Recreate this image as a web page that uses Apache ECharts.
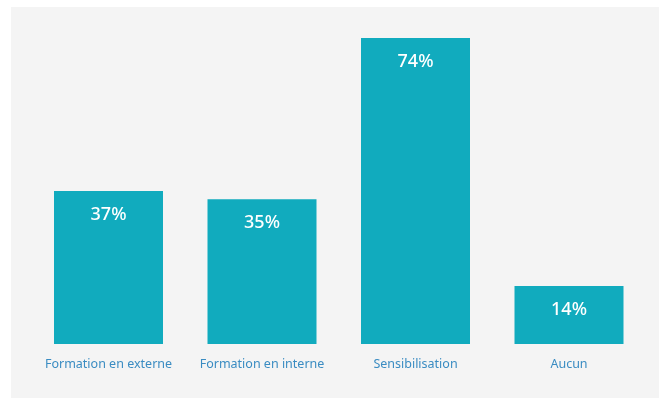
<!DOCTYPE html>
<html>
<head>
<meta charset="utf-8">
<style>
  html, body { margin: 0; padding: 0; background: #ffffff; }
  #chart { width: 659px; height: 398px; }
</style>
<script src="https://cdn.jsdelivr.net/npm/echarts@6/dist/echarts.min.js"></script>
</head>
<body>
<div id="chart"></div>
<script>
// Types de formation (part des répondants, %)
const categories = ['Formation en externe', 'Formation en interne', 'Sensibilisation', 'Aucun'];
const values = [37, 35, 74, 14];

const chart = echarts.init(document.getElementById('chart'), null, { renderer: 'canvas' });

chart.setOption({
  backgroundColor: '#ffffff',
  animation: false,
  graphic: [{
    type: 'rect',
    z: -10,
    silent: true,
    shape: { x: 11, y: 7, width: 659, height: 398 },
    style: { fill: '#f4f4f4' }
  }],
  grid: { left: 31.75, right: 13.25, top: 13.2, bottom: 54 },
  xAxis: {
    type: 'category',
    data: categories,
    axisLine: { show: false },
    axisTick: { show: false },
    axisLabel: {
      interval: 0,
      color: '#3a8cc2',
      fontFamily: 'Noto Sans',
      fontSize: 12.5,
      margin: 14
    }
  },
  yAxis: {
    type: 'value',
    min: 0,
    max: 80,
    show: false,
    splitLine: { show: false }
  },
  series: [{
    type: 'bar',
    data: values,
    barWidth: 109,
    itemStyle: { color: '#11abbe' },
    label: {
      show: true,
      position: 'insideTop',
      distance: 14.5,
      formatter: '{c}%',
      color: '#ffffff',
      fontFamily: 'Noto Sans',
      fontSize: 18,
      fontWeight: 500
    }
  }]
});
</script>
</body>
</html>
